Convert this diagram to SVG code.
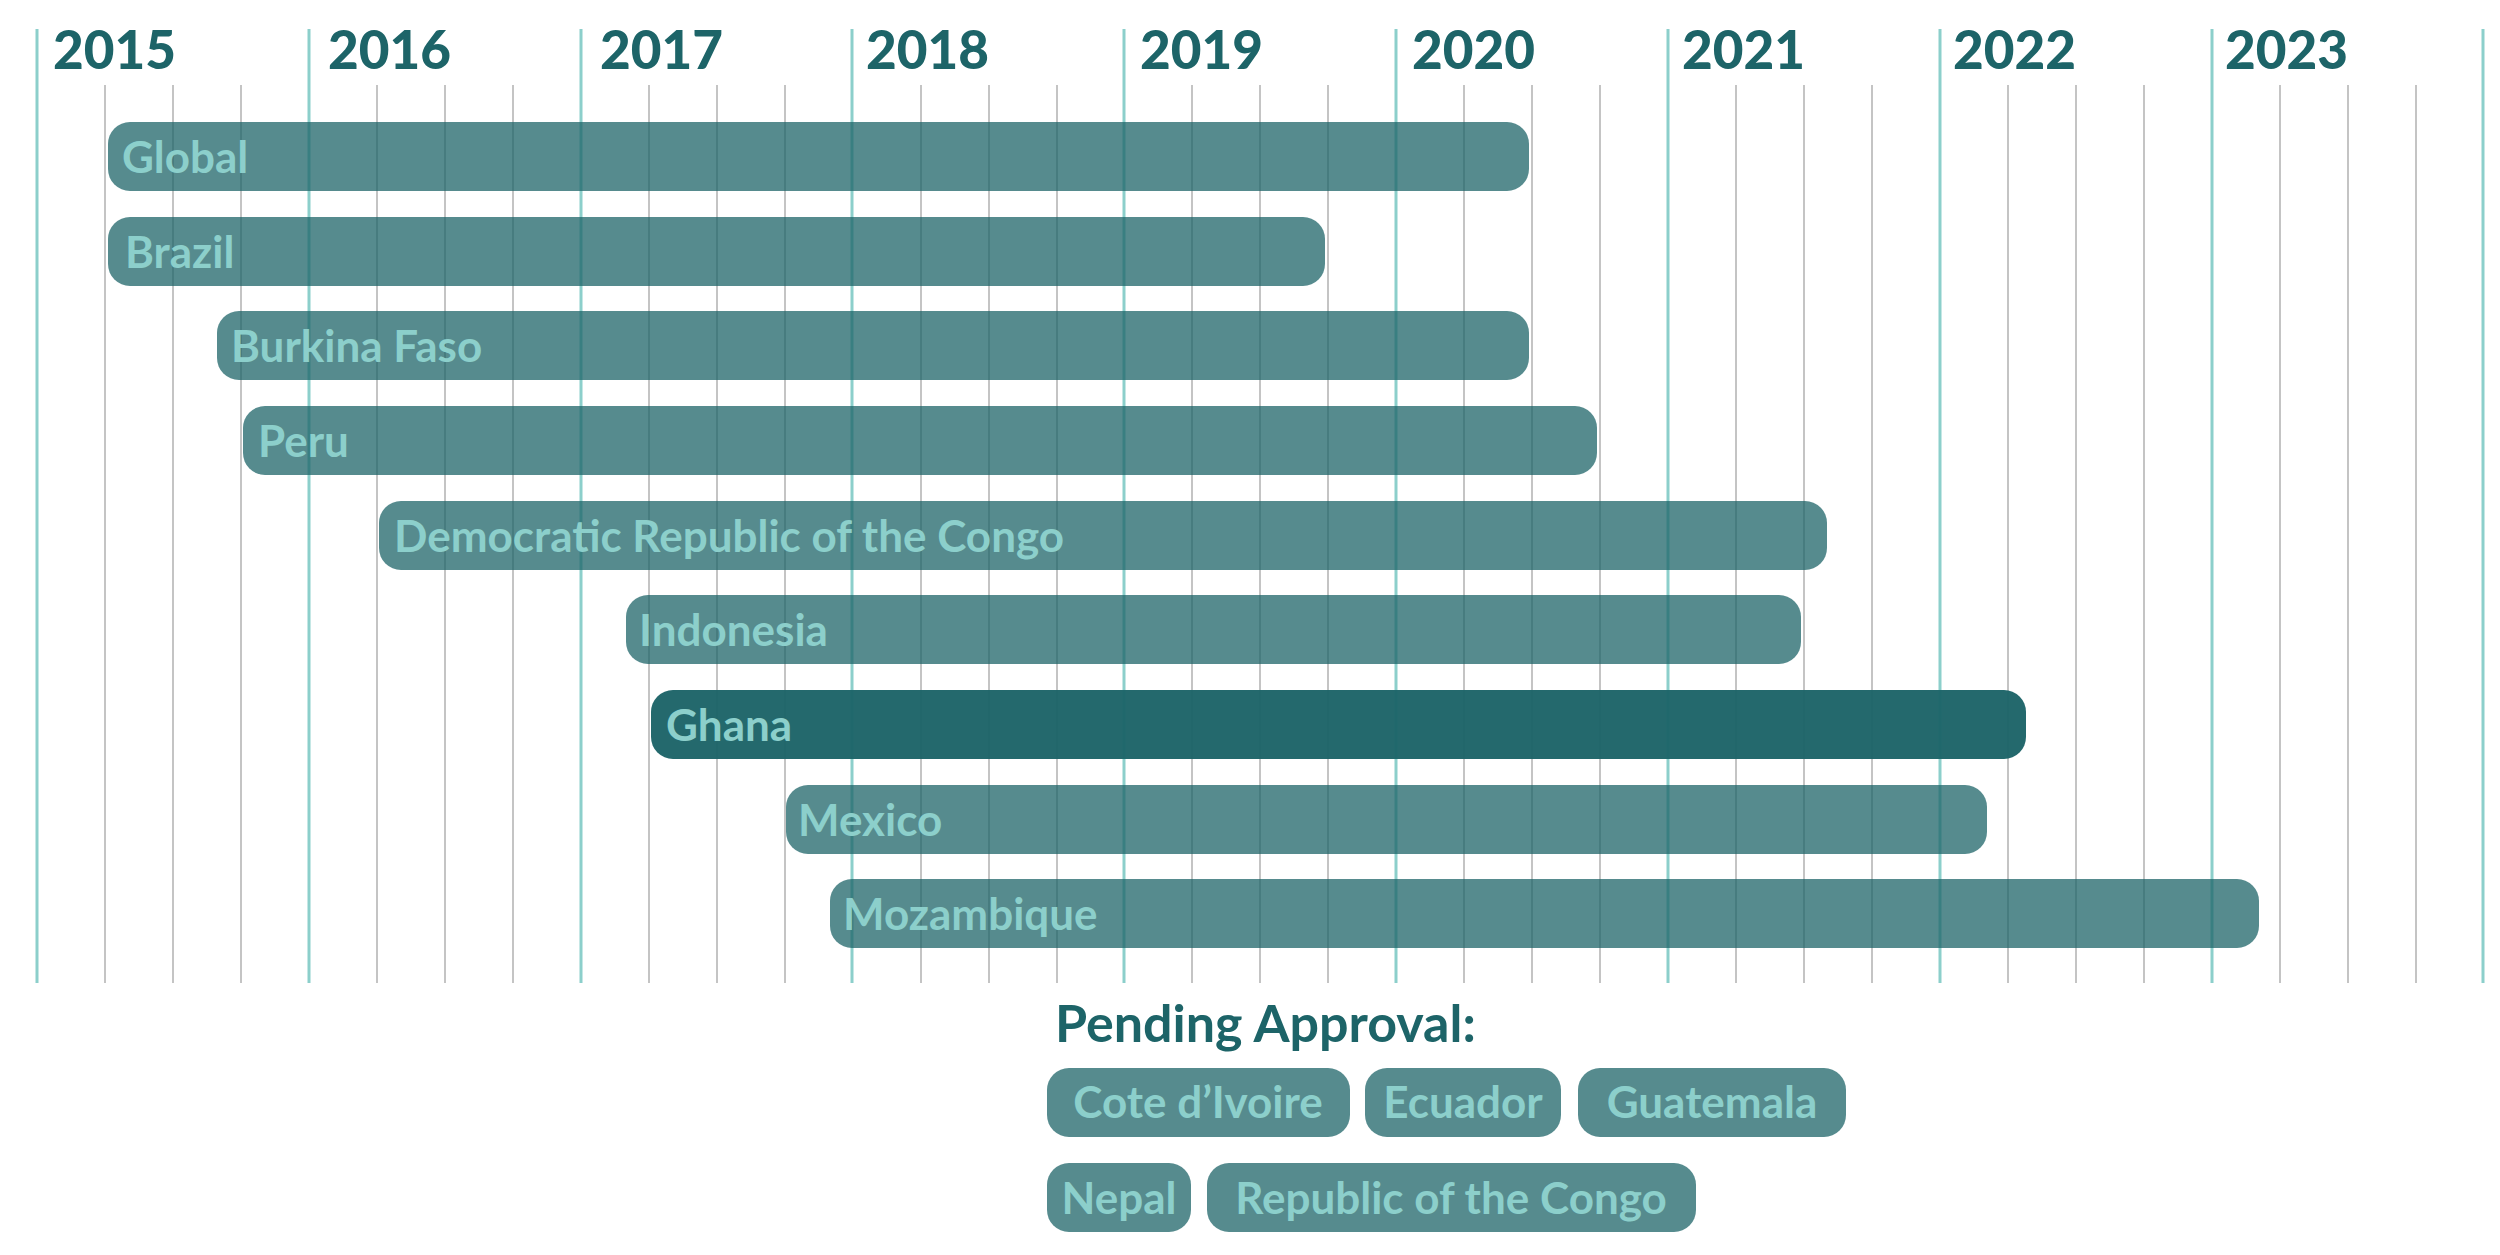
<svg xmlns="http://www.w3.org/2000/svg" width="2500" height="1255" viewBox="0 0 2500 1255">
<style>
.q{stroke:#c4c4c4;stroke-width:2}
.y{stroke:#8ccfcb;stroke-width:3}
.yl{font-family:Lato,"Open Sans",sans-serif;font-weight:900;font-size:53px;fill:#1d6468}
.bar{fill:#1d6468;fill-opacity:0.75}
.hl{fill:#1d6468;fill-opacity:0.97}
.lb{font-family:Lato,"Open Sans",sans-serif;font-weight:700;font-size:44px;fill:#8ccfcb}
.pl{font-family:Lato,"Open Sans",sans-serif;font-weight:700;font-size:44px;fill:#8ccfcb;text-anchor:middle}
.ph{font-family:Lato,"Open Sans",sans-serif;font-weight:700;font-size:52px;fill:#1d6468}
</style>
<rect width="2500" height="1255" fill="#fff"/>
<g id="grid">
<g id="quarters">
<line class="q" x1="105" y1="85" x2="105" y2="983"/><line class="q" x1="173" y1="85" x2="173" y2="983"/><line class="q" x1="241" y1="85" x2="241" y2="983"/>
<line class="q" x1="377" y1="85" x2="377" y2="983"/><line class="q" x1="445" y1="85" x2="445" y2="983"/><line class="q" x1="513" y1="85" x2="513" y2="983"/>
<line class="q" x1="649" y1="85" x2="649" y2="983"/><line class="q" x1="717" y1="85" x2="717" y2="983"/><line class="q" x1="785" y1="85" x2="785" y2="983"/>
<line class="q" x1="921" y1="85" x2="921" y2="983"/><line class="q" x1="989" y1="85" x2="989" y2="983"/><line class="q" x1="1057" y1="85" x2="1057" y2="983"/>
<line class="q" x1="1192" y1="85" x2="1192" y2="983"/><line class="q" x1="1260" y1="85" x2="1260" y2="983"/><line class="q" x1="1328" y1="85" x2="1328" y2="983"/>
<line class="q" x1="1464" y1="85" x2="1464" y2="983"/><line class="q" x1="1532" y1="85" x2="1532" y2="983"/><line class="q" x1="1600" y1="85" x2="1600" y2="983"/>
<line class="q" x1="1736" y1="85" x2="1736" y2="983"/><line class="q" x1="1804" y1="85" x2="1804" y2="983"/><line class="q" x1="1872" y1="85" x2="1872" y2="983"/>
<line class="q" x1="2008" y1="85" x2="2008" y2="983"/><line class="q" x1="2076" y1="85" x2="2076" y2="983"/><line class="q" x1="2144" y1="85" x2="2144" y2="983"/>
<line class="q" x1="2280" y1="85" x2="2280" y2="983"/><line class="q" x1="2348" y1="85" x2="2348" y2="983"/><line class="q" x1="2416" y1="85" x2="2416" y2="983"/>
</g>
<g id="years">
<line class="y" x1="37" y1="29" x2="37" y2="983"/><line class="y" x1="309" y1="29" x2="309" y2="983"/><line class="y" x1="581" y1="29" x2="581" y2="983"/>
<line class="y" x1="852" y1="29" x2="852" y2="983"/><line class="y" x1="1124" y1="29" x2="1124" y2="983"/><line class="y" x1="1396" y1="29" x2="1396" y2="983"/>
<line class="y" x1="1668" y1="29" x2="1668" y2="983"/><line class="y" x1="1940" y1="29" x2="1940" y2="983"/><line class="y" x1="2212" y1="29" x2="2212" y2="983"/>
<line class="y" x1="2483" y1="29" x2="2483" y2="983"/>
</g>
<g id="year-labels">
<text class="yl" x="53" y="69">2015</text><text class="yl" x="328" y="69">2016</text><text class="yl" x="600" y="69">2017</text>
<text class="yl" x="866" y="69">2018</text><text class="yl" x="1140" y="69">2019</text><text class="yl" x="1412" y="69">2020</text>
<text class="yl" x="1682" y="69">2021</text><text class="yl" x="1953" y="69">2022</text><text class="yl" x="2225" y="69">2023</text>
</g>
</g>
<g id="global"><rect class="bar" x="108" y="122" width="1421" height="69" rx="22"/><text class="lb" x="122" y="173">Global</text></g>
<g id="brazil"><rect class="bar" x="108" y="217" width="1217" height="69" rx="22"/><text class="lb" x="125" y="268">Brazil</text></g>
<g id="burkina-faso"><rect class="bar" x="217" y="311" width="1312" height="69" rx="22"/><text class="lb" x="231" y="362">Burkina Faso</text></g>
<g id="peru"><rect class="bar" x="243" y="406" width="1354" height="69" rx="22"/><text class="lb" x="258" y="457">Peru</text></g>
<g id="drc"><rect class="bar" x="379" y="501" width="1448" height="69" rx="22"/><text class="lb" x="394" y="552">Democratic Republic of the Congo</text></g>
<g id="indonesia"><rect class="bar" x="626" y="595" width="1175" height="69" rx="22"/><text class="lb" x="639" y="646">Indonesia</text></g>
<g id="ghana"><rect class="hl" x="651" y="690" width="1375" height="69" rx="22"/><text class="lb" x="666" y="741">Ghana</text></g>
<g id="mexico"><rect class="bar" x="786" y="785" width="1201" height="69" rx="22"/><text class="lb" x="798" y="836">Mexico</text></g>
<g id="mozambique"><rect class="bar" x="830" y="879" width="1429" height="69" rx="22"/><text class="lb" x="843" y="930">Mozambique</text></g>
<g id="pending">
<text class="ph" x="1055" y="1042">Pending Approval:</text>
<g id="cote-divoire"><rect class="bar" x="1047" y="1068" width="303" height="69" rx="22"/><text class="pl" x="1198" y="1118">Cote d’Ivoire</text></g>
<g id="ecuador"><rect class="bar" x="1365" y="1068" width="196" height="69" rx="22"/><text class="pl" x="1463" y="1118">Ecuador</text></g>
<g id="guatemala"><rect class="bar" x="1578" y="1068" width="268" height="69" rx="22"/><text class="pl" x="1712" y="1118">Guatemala</text></g>
<g id="nepal"><rect class="bar" x="1047" y="1163" width="144" height="69" rx="22"/><text class="pl" x="1119" y="1214">Nepal</text></g>
<g id="republic-of-the-congo"><rect class="bar" x="1207" y="1163" width="489" height="69" rx="22"/><text class="pl" x="1451" y="1214">Republic of the Congo</text></g>
</g>
</svg>
